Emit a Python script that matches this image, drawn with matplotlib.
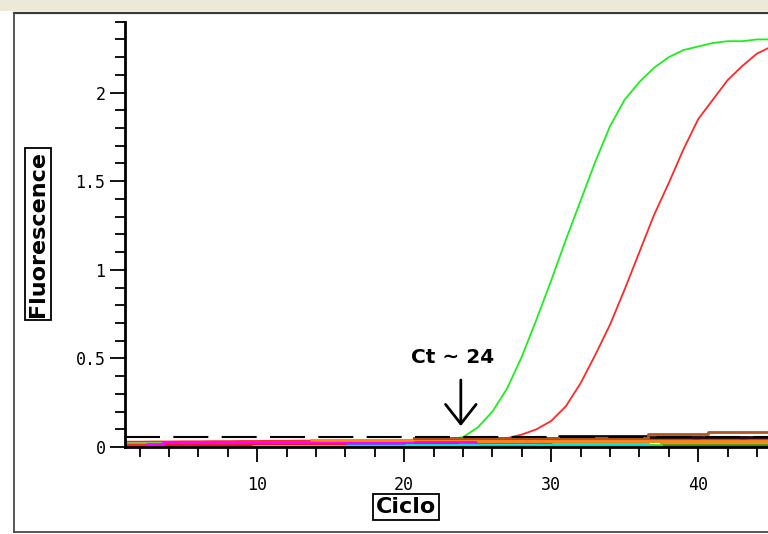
import matplotlib
matplotlib.use("Agg")
import matplotlib.pyplot as plt
from matplotlib.ticker import MultipleLocator, FuncFormatter
from matplotlib.patches import Rectangle
from matplotlib.lines import Line2D

# ---------------- data ----------------
cycles = list(range(1, 46))
green_curve = [0.020, 0.020, 0.021, 0.022, 0.022, 0.023, 0.024, 0.024, 0.025, 0.026,
               0.026, 0.027, 0.028, 0.028, 0.029, 0.030, 0.030, 0.031, 0.032, 0.032,
               0.033, 0.036, 0.042, 0.056, 0.11, 0.20, 0.33, 0.51, 0.72, 0.94,
               1.17, 1.39, 1.61, 1.81, 1.96, 2.06, 2.14, 2.20, 2.24, 2.26,
               2.28, 2.29, 2.29, 2.30, 2.30]
red_curve = [0.030, 0.030, 0.031, 0.031, 0.032, 0.032, 0.033, 0.033, 0.034, 0.034,
             0.035, 0.035, 0.036, 0.036, 0.037, 0.037, 0.038, 0.038, 0.039, 0.039,
             0.040, 0.040, 0.041, 0.042, 0.043, 0.045, 0.050, 0.070, 0.100, 0.147,
             0.23, 0.36, 0.52, 0.69, 0.89, 1.10, 1.31, 1.49, 1.68, 1.85,
             1.96, 2.07, 2.15, 2.22, 2.26]

# baseline (non-amplifying) traces, read as step levels: (cycle where level starts, level)
bg_dkgreen_x = [1, 20.0, 37.5, 45]
bg_dkgreen_y = [0.004, 0.006, 0.012, 0.012]
bg_lime_x = [1, 3.6, 29.0, 37.5, 45]
bg_lime_y = [0.005, 0.008, 0.010, 0.026, 0.026]
bg_cyan_x = [1, 11.7, 25.0, 36.6, 45]
bg_cyan_y = [0.004, 0.016, 0.022, 0.036, 0.036]
bg_blue_x = [1, 3.6, 20.0, 30.0, 45]
bg_blue_y = [0.004, 0.020, 0.026, 0.032, 0.032]
bg_red_x = [1, 9.6, 16.0, 23.6, 27.0, 30.5, 45]
bg_red_y = [0.012, 0.022, 0.026, 0.034, 0.040, 0.046, 0.046]
bg_magenta_x = [1, 2.5, 3.6, 20.6, 30.0, 39.5, 40.2, 42.7, 43.4, 45]
bg_magenta_y = [0.005, 0.016, 0.030, 0.036, 0.040, 0.056, 0.042, 0.056, 0.044, 0.044]
bg_orange_x = [13.6, 20.6, 25.0, 41.5, 45]
bg_orange_y = [0.042, 0.046, 0.034, 0.032, 0.032]
bg_black_x = [20.6, 30.5, 36.6, 45]
bg_black_y = [0.052, 0.061, 0.056, 0.056]
bg_brown_x = [20.6, 36.6, 40.7, 45]
bg_brown_y = [0.050, 0.072, 0.086, 0.086]

threshold = 0.058
ct_label = "Ct \u223c 24"
ct_cycle = 23.85

# ---------------- figure ----------------
W, H = 768, 534
fig = plt.figure(figsize=(W / 100, H / 100), dpi=100)
fig.patch.set_facecolor("white")

# window chrome
fig.patches.append(Rectangle((0, 1 - 11 / H), 1, 11 / H, transform=fig.transFigure,
                             facecolor="#ECE9D8", edgecolor="none", zorder=0))
fig.lines.append(Line2D([13.5 / W, 1], [1 - 12.5 / H] * 2, transform=fig.transFigure,
                        color="#3A3A3A", lw=1.6))
fig.lines.append(Line2D([13.5 / W] * 2, [1 - 12.5 / H, 1 - 531.5 / H], transform=fig.transFigure,
                        color="#4A4A4A", lw=1.3))
fig.lines.append(Line2D([13.5 / W, 1], [1 - 531.5 / H] * 2, transform=fig.transFigure,
                        color="#4A4A4A", lw=1.3))

ax = fig.add_axes([125 / W, (H - 447) / H, (W - 125) / W, (447 - 21.7) / H])
ax.set_xlim(1, 44.75)
ax.set_ylim(0, 2.4)
ax.set_facecolor("none")
for s in ("top", "right"):
    ax.spines[s].set_visible(False)
for s in ("left", "bottom"):
    ax.spines[s].set_linewidth(2.0)
    ax.spines[s].set_color("black")
    ax.spines[s].set_zorder(6)

ax.xaxis.set_major_locator(MultipleLocator(10))
ax.xaxis.set_minor_locator(MultipleLocator(2))
ax.yaxis.set_major_locator(MultipleLocator(0.5))
ax.yaxis.set_minor_locator(MultipleLocator(0.1))
ax.yaxis.set_major_formatter(FuncFormatter(lambda v, p: "%g" % v))
ax.tick_params(axis="both", which="major", length=11, width=1.3, direction="out", color="black")
ax.tick_params(axis="both", which="minor", length=7, width=1.3, direction="out", color="black")
ax.tick_params(axis="x", which="major", pad=10)
ax.tick_params(axis="y", which="major", pad=3)
for lab in ax.get_xticklabels() + ax.get_yticklabels():
    lab.set_fontfamily("DejaVu Sans Mono")
    lab.set_fontsize(12)

# amplification curves (baseline parts sit beneath the other traces)
ax.plot(cycles, red_curve, color="#FF2828", lw=1.3, zorder=1.5)
ax.plot(cycles, green_curve, color="#1EEE1E", lw=1.3, zorder=1.6)

# baseline traces (bottom to top)
bg = [(bg_dkgreen_x, bg_dkgreen_y, "#4E8A00"),
      (bg_lime_x, bg_lime_y, "#33DD33"),
      (bg_cyan_x, bg_cyan_y, "#00E5EE"),
      (bg_blue_x, bg_blue_y, "#4060FF"),
      (bg_red_x, bg_red_y, "#FF1010"),
      (bg_magenta_x, bg_magenta_y, "#FF00FF"),
      (bg_orange_x, bg_orange_y, "#FF8C00"),
      (bg_black_x, bg_black_y, "#101010"),
      (bg_brown_x, bg_brown_y, "#B0561E")]
for xs, ys, col in bg:
    ax.plot(xs, ys, drawstyle="steps-post", color=col, lw=2.0, zorder=2,
            solid_capstyle="butt")

# threshold
ax.axhline(threshold, color="black", lw=1.5, dashes=(16.8, 6.4), zorder=3)

# Ct annotation
ax.text(23.3, 0.505, ct_label, ha="center", va="center", fontsize=14.5,
        fontweight="bold", color="black")
ax.annotate("", xy=(ct_cycle, 0.118), xytext=(ct_cycle, 0.378),
            arrowprops=dict(arrowstyle="->,head_length=0.7,head_width=0.55",
                            lw=2.0, color="black", mutation_scale=20, shrinkA=0, shrinkB=0))

# boxed axis labels
box = dict(boxstyle="square,pad=0.15", facecolor="white", edgecolor="black", linewidth=1.3)
fig.text(38 / W, 1 - 234 / H, "Fluorescence", rotation=90, ha="center", va="center",
         fontsize=16, fontweight="bold", bbox=box)
fig.text(406 / W, 1 - 507 / H, "Ciclo", ha="center", va="center",
         fontsize=16, fontweight="bold", bbox=box)

fig.savefig("out.png", dpi=100)
